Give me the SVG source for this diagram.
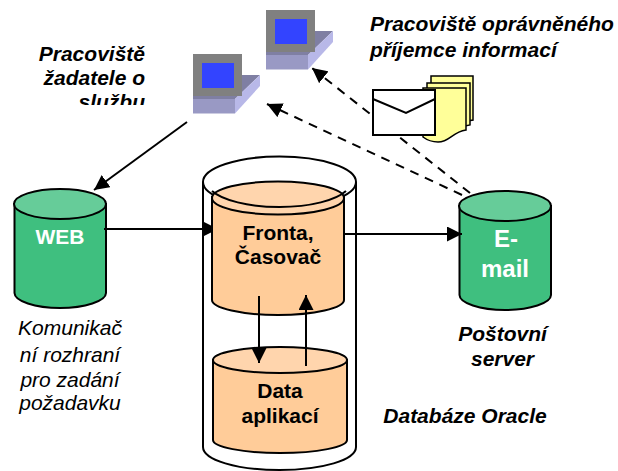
<svg xmlns="http://www.w3.org/2000/svg" width="618" height="471" viewBox="0 0 618 471">
<style>
text{font-family:"Liberation Sans",Arial,sans-serif;font-weight:bold;text-anchor:middle;font-size:21px;fill:#000}
.i{font-style:italic}
.n{font-style:italic;font-weight:normal}
.s{text-anchor:start}
.e{text-anchor:end}
text.w{fill:#fff}
.c{stroke:#000;stroke-width:2}
.g{fill:#3fbf7f}.gt{fill:#66cc99}
.o{fill:#ffcc99}.ot{fill:#ffd5ad}
.l{stroke:#000;stroke-width:2;fill:none}
.d{stroke:#000;stroke-width:2;fill:none;stroke-dasharray:9 7}
.y{fill:#ffff99;stroke:#000;stroke-width:1.500}
</style>
<defs>
<marker id="a" markerUnits="userSpaceOnUse" markerWidth="15" markerHeight="15" refX="15" refY="7.500" orient="auto"><path d="M0 0L15 7.500L0 15Z" fill="#000"/></marker>
<clipPath id="cp"><rect x="0" y="0" width="200" height="105"/></clipPath>
<clipPath id="cw"><rect x="0" y="200" width="212" height="60"/></clipPath>
<g id="pc">
<path d="M0 42L49 21H67L42 45H0Z" fill="#7f7fa3"/>
<path d="M0 45H42V59.500H0Z" fill="#9999c4"/>
<path d="M42 45L67 21V32L42 59.500Z" fill="#b8b8e8"/>
<rect x="0" y="0" width="49" height="42" fill="#808080"/>
<rect x="9" y="9" width="32" height="25" fill="#3344ff"/>
</g>
</defs>
<g id="outer"><path d="M203 182V447C203 460 237 470 279.500 470S356 460 356 447V182" fill="#fff" stroke="#000" stroke-width="2"/><ellipse cx="279.500" cy="182" rx="76.500" ry="25.500" fill="#fff" stroke="#000" stroke-width="2"/></g>
<g id="fronta"><path class="o c" d="M212 197V300C212 308 242 315 278 315S344 308 344 300V197Z"/><ellipse class="ot c" cx="278" cy="198" rx="66" ry="16.500"/><path d="M212 191C222 200 248 207 279.500 207S336 200 346 191" fill="none" stroke="#000" stroke-width="2"/><text x="278" y="240">Fronta,</text><text x="278" y="264">Časovač</text></g>
<g id="data"><path class="o c" d="M213 360V440C213 447 243 453 280 453S347 447 347 440V360Z"/><ellipse class="ot c" cx="280" cy="360" rx="67" ry="13"/><text x="280" y="398">Data</text><text x="280" y="423">aplikací</text></g>
<g id="web"><path class="g c" d="M14.500 204V293C14.500 301 35 308 60 308S106 301 106 293V204Z"/><ellipse class="gt c" cx="60" cy="204" rx="46" ry="15"/><text class="w" x="60" y="244">WEB</text></g>
<g id="email"><path class="g c" d="M459.500 206V295C459.500 303 480 310 505 310S551 303 551 295V206Z"/><ellipse class="gt c" cx="505" cy="206" rx="46" ry="15"/><text class="w" x="506" y="247" style="font-size:24px">E-</text><text class="w" x="505" y="277" style="font-size:24px">mail</text></g>
<g id="pc1"><use href="#pc" x="193" y="54"/></g>
<g id="pc2"><use href="#pc" x="266" y="10"/></g>
<g id="connectors">
<path class="l" d="M187 122L94 190" marker-end="url(#a)"/>
<path class="l" d="M104 229H218" marker-end="url(#a)" clip-path="url(#cw)"/>
<path class="l" d="M345 234H462" marker-end="url(#a)"/>
<path class="l" d="M259 296V363" marker-end="url(#a)"/>
<path class="l" d="M306 366V295" marker-end="url(#a)"/>
<path class="d" d="M462 195L267 104" marker-end="url(#a)"/>
<path class="d" d="M470 193L312 68" marker-end="url(#a)"/>
</g>
<g id="letter">
<path class="y" d="M431 76H473V120L460 122L431 120Z"/>
<path class="y" d="M427 83H470V125L455 128L427 125Z"/>
<path class="y" d="M423 88H466V130C452 132 450 142 438 142C432 142 427 140 423 137Z"/>
<rect x="373" y="90" width="62" height="45" fill="#fff" stroke="#000" stroke-width="2"/>
<path d="M373 99L406 113L435 99" fill="none" stroke="#000" stroke-width="2"/>
</g>
<g>
<text class="i e" x="145" y="61">Pracoviště</text><text class="i e" x="145" y="85">žadatele o</text><text class="i e" x="145" y="109" clip-path="url(#cp)">službu</text>
<text class="i s" x="370" y="31">Pracoviště oprávněného</text><text class="i s" x="370" y="57">příjemce informací</text>
<text class="n" x="70" y="335">Komunikač</text><text class="n" x="70" y="362">ní rozhraní</text><text class="n" x="70" y="387">pro zadání</text><text class="n" x="70" y="410">požadavku</text>
<text class="i" x="502.500" y="341">Poštovní</text><text class="i" x="502.500" y="366">server</text>
<text class="i" x="465" y="423">Databáze Oracle</text>
</g>
</svg>
